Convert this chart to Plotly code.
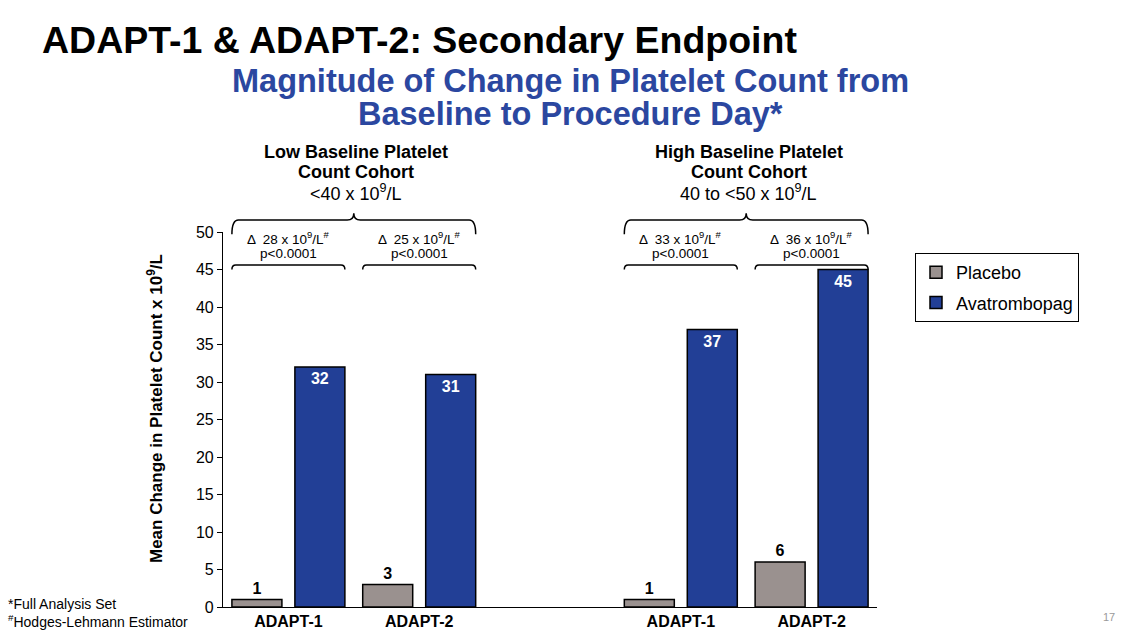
import plotly.graph_objects as go

# ---------------- data ----------------
slot_index = [0, 1, 3, 4]                      # slot 2 is the empty gap between cohorts
tick_labels = ["ADAPT-1", "ADAPT-2", "ADAPT-1", "ADAPT-2"]
placebo = [1, 3, 1, 6]
avatrombopag = [32, 31, 37, 45]
delta_values = [28, 25, 33, 36]
p_values = ["p&lt;0.0001", "p&lt;0.0001", "p&lt;0.0001", "p&lt;0.0001"]
cohort_lines = [
    ["<b>Low Baseline Platelet</b>", "<b>Count Cohort</b>", "&lt;40 x 10<sup>9</sup>/L"],
    ["<b>High Baseline Platelet</b>", "<b>Count Cohort</b>", "40 to &lt;50 x 10<sup>9</sup>/L"],
]
cohort_slots = [[0, 1], [3, 4]]
series_names = ["Placebo", "Avatrombopag"]

# ---------------- style ----------------
FONT = "Liberation Sans, Arial, sans-serif"
C_PLACEBO = "#9A918F"
C_AVA = "#223F96"
C_SUB = "#2B47A0"
Y_MAX = 50
BARGAP = 0.037
BARGROUPGAP = 0.206
L, R, T, B = 223, 252, 232, 28
W, H = 1129, 635
PW, PH = W - L - R, H - T - B


def px_x(px):
    return (px - L) / PW


def px_y(py):
    return (H - B - py) / PH


fig = go.Figure()
fig.add_trace(go.Bar(
    x=slot_index, y=placebo, name=series_names[0],
    marker=dict(color=C_PLACEBO, line=dict(color="black", width=1.5)),
    text=placebo, texttemplate="<b>%{text}</b>", textposition="outside",
    textfont=dict(family=FONT, size=16, color="black"),
    cliponaxis=False, legendgroup="p",
))
fig.add_trace(go.Bar(
    x=slot_index, y=avatrombopag, name=series_names[1],
    marker=dict(color=C_AVA, line=dict(color="black", width=1.5)),
    text=avatrombopag, texttemplate="<b>%{text}</b>", textposition="inside",
    insidetextanchor="end", textangle=0, constraintext="none",
    textfont=dict(family=FONT, size=16, color="white"),
    cliponaxis=False, legendgroup="a",
))

# half of the visible group width (outer bar edges), in slot units
half = (1 - BARGAP) / 2 * (1 - BARGROUPGAP / 2)


def brace(x0, x1, yline, yend, ytip=None, dx=0.04):
    p = f"M {x0},{yend} Q {x0},{yline} {x0 + dx},{yline} "
    if ytip is not None:
        mid = (x0 + x1) / 2
        p += (f"L {mid - dx},{yline} Q {mid},{yline} {mid},{ytip} "
              f"Q {mid},{yline} {mid + dx},{yline} ")
    p += f"L {x1 - dx},{yline} Q {x1},{yline} {x1},{yend}"
    return p


shapes = []
for s in slot_index:
    shapes.append(dict(type="path", xref="x", yref="paper",
                       path=brace(s - half, s + half, 45.6 / Y_MAX, 45.0 / Y_MAX, dx=0.03),
                       line=dict(color="black", width=1.5)))
for pair in cohort_slots:
    shapes.append(dict(type="path", xref="x", yref="paper",
                       path=brace(pair[0] - half, pair[1] + half, 51.6 / Y_MAX, 49.7 / Y_MAX,
                                  ytip=52.5 / Y_MAX, dx=0.05),
                       line=dict(color="black", width=1.5)))

annotations = []
for s, d, p in zip(slot_index, delta_values, p_values):
    annotations.append(dict(
        x=s, y=px_y(238), xref="x", yref="paper", showarrow=False, yanchor="middle",
        text=f"Δ  {d} x 10<sup>9</sup>/L<sup>#</sup>",
        font=dict(family=FONT, size=13.5, color="black"),
    ))
    annotations.append(dict(
        x=s, y=px_y(253), xref="x", yref="paper", showarrow=False, yanchor="middle",
        text=p, font=dict(family=FONT, size=13.5, color="black"),
    ))
for pair, lines in zip(cohort_slots, cohort_lines):
    for i, t in enumerate(lines):
        annotations.append(dict(
            x=(pair[0] + pair[1]) / 2 + 0.02, y=px_y(152 + 20 * i), xref="x", yref="paper",
            showarrow=False, text=t, yanchor="middle", xanchor="center",
            font=dict(family=FONT, size=18, color="black"),
        ))
# subtitle
annotations.append(dict(x=px_x(570), y=px_y(81), xref="paper", yref="paper", showarrow=False,
                        text="<b>Magnitude of Change in Platelet Count from</b>", xanchor="center",
                        font=dict(family=FONT, size=32.5, color=C_SUB), yanchor="middle"))
annotations.append(dict(x=px_x(570), y=px_y(114), xref="paper", yref="paper", showarrow=False,
                        text="<b>Baseline to Procedure Day*</b>", xanchor="center",
                        font=dict(family=FONT, size=32.5, color=C_SUB), yanchor="middle"))
# y-axis title
annotations.append(dict(x=px_x(155), y=px_y(409), xref="paper", yref="paper", showarrow=False,
                        xanchor="center", yanchor="middle",
                        text="<b>Mean Change in Platelet Count x 10<sup>9</sup>/L</b>",
                        textangle=-90, font=dict(family=FONT, size=17, color="black")))
# footnotes
annotations.append(dict(x=px_x(6), y=px_y(604), xref="paper", yref="paper",
                        showarrow=False, xanchor="left", yanchor="middle",
                        text="*Full Analysis Set",
                        font=dict(family=FONT, size=14, color="black")))
annotations.append(dict(x=px_x(6), y=px_y(621), xref="paper", yref="paper",
                        showarrow=False, xanchor="left", yanchor="middle",
                        text="<sup>#</sup>Hodges-Lehmann Estimator",
                        font=dict(family=FONT, size=14, color="black")))
# page number
annotations.append(dict(x=px_x(1109), y=px_y(617), xref="paper", yref="paper", showarrow=False,
                        xanchor="center", yanchor="middle",
                        text="17", font=dict(family=FONT, size=11, color="#9A9A9A")))

fig.update_layout(
    width=W, height=H,
    margin=dict(l=L, r=R, t=T, b=B, autoexpand=False),
    paper_bgcolor="white", plot_bgcolor="white",
    barmode="group", bargap=BARGAP, bargroupgap=BARGROUPGAP,
    font=dict(family=FONT, color="black"),
    title=dict(text="<b>ADAPT-1 &amp; ADAPT-2: Secondary Endpoint</b>",
               x=42 / W, xanchor="left", xref="container",
               y=1 - 40 / H, yanchor="middle", yref="container",
               font=dict(family=FONT, size=37.5, color="black")),
    xaxis=dict(tickmode="array", tickvals=slot_index,
               ticktext=[f"<b>{t}</b>" for t in tick_labels],
               range=[-0.5, 4.5], showline=True, linecolor="black", linewidth=1.2,
               ticks="", showgrid=False, zeroline=False,
               tickfont=dict(family=FONT, size=16, color="black")),
    yaxis=dict(range=[0, Y_MAX], dtick=5, showline=True, linecolor="black", linewidth=1.2,
               ticks="outside", ticklen=5, tickcolor="black", showgrid=False, zeroline=False,
               tickfont=dict(family=FONT, size=16, color="black")),
    legend=dict(x=px_x(915), y=px_y(253), xanchor="left", yanchor="top",
                bordercolor="black", borderwidth=1, traceorder="grouped",
                tracegroupgap=4, itemwidth=30,
                font=dict(family=FONT, size=18, color="black")),
    shapes=shapes, annotations=annotations,
)

fig.write_html("out.html", config={"displayModeBar": False},
               post_script="document.body.style.margin='0';")
